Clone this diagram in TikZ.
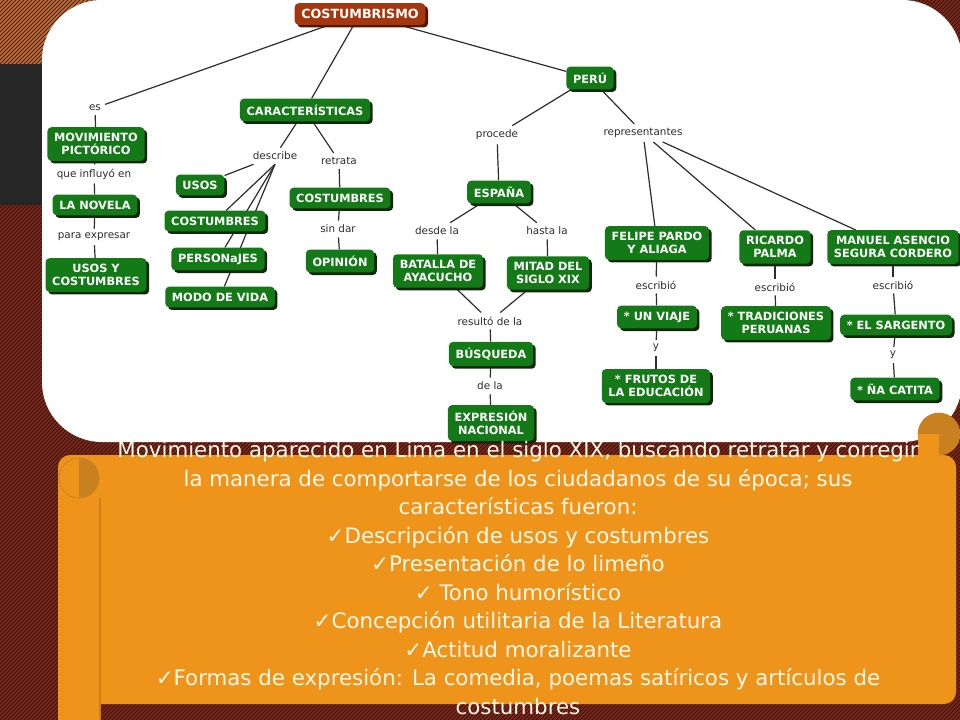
\documentclass[tikz,border=0pt]{standalone}
\usepackage{fontspec}
\setmainfont{DejaVu Sans}
\usetikzlibrary{patterns,shadows}
\pgfdeclarelayer{back}
\pgfdeclarelayer{links}
\pgfsetlayers{back,links,main}
\definecolor{mapgreen}{RGB}{20,122,24}
\definecolor{mapshadow}{RGB}{18,40,12}
\definecolor{maproot}{RGB}{165,55,15}
\definecolor{rootshadow}{RGB}{80,22,6}
\definecolor{scroll}{RGB}{239,148,26}
\definecolor{scrolldark}{RGB}{200,128,32}
\definecolor{hatchtop}{RGB}{185,105,55}
\definecolor{hatchlow}{RGB}{120,40,26}
\definecolor{hatchdark}{RGB}{40,12,6}
\definecolor{panelgray}{RGB}{38,38,38}
\definecolor{linkgray}{RGB}{45,45,45}
\definecolor{cream}{RGB}{255,248,232}
\tikzset{
    box/.style={rectangle, rounded corners=3pt, text=white, align=center,
        inner xsep=5pt, inner ysep=4.5pt, font=\bfseries\fontsize{8.5}{9.8}\selectfont},
    concept/.style={box, fill=mapgreen,
        general shadow={fill=mapshadow, shadow xshift=2pt, shadow yshift=-2pt}},
    rootconcept/.style={box, fill=maproot, font=\bfseries\fontsize{9.5}{11}\selectfont,
        general shadow={fill=rootshadow, shadow xshift=2pt, shadow yshift=-2pt}},
    linkword/.style={text=linkgray, font=\fontsize{7.8}{9}\selectfont, inner sep=3pt},
    link/.style={draw=linkgray, line width=0.9pt}
}
\begin{document}
\begin{tikzpicture}[x=0.75pt, y=-0.75pt]
    \useasboundingbox (0,0) rectangle (960,720);
    \begin{pgfonlayer}{back}
    \fill[hatchlow] (0,0) rectangle (960,720);
    \fill[hatchtop] (0,0) rectangle (130,64);
    \fill[pattern=north east lines, pattern color=hatchdark] (0,0) rectangle (960,720);
    \fill[panelgray] (0,64) rectangle (42,205);
    \fill[white, rounded corners=45pt] (42,0) rectangle (962,442);
    \fill[scroll, rounded corners=9pt] (58,455) rectangle (956,704);
    \fill[scroll] (58,470) rectangle (100,720);
    \draw[scrolldark, line width=0.8pt] (100,498) -- (100,720);
    \draw[scrolldark, fill=scroll, line width=0.5pt] (79,478) circle (15pt);
    \fill[scrolldark] (79,458) arc[start angle=90, end angle=-90, radius=15pt] -- cycle;
    \fill[scrolldark] (939,434) circle (16pt);
    \fill[scroll] (918,434) rectangle (939,455);
    \end{pgfonlayer}

    \node[rootconcept] (root) at (360,14) {COSTUMBRISMO};
    \node[linkword] (es) at (95,108) {es};
    \node[concept] (pictorico) at (96,144) {MOVIMIENTO\\PICTÓRICO};
    \node[linkword] (influyo) at (94,174) {que influyó en};
    \node[concept] (novela) at (95,205) {LA NOVELA};
    \node[linkword] (expresar) at (94,237) {para expresar};
    \node[concept] (usosycost) at (96,275) {USOS Y\\COSTUMBRES};
    \node[concept] (rasgos) at (305,110) {CARACTERÍSTICAS};
    \node[linkword] (describe) at (275,156) {describe};
    \node[linkword] (retrata) at (339,161) {retrata};
    \node[concept] (usos) at (200,185) {USOS};
    \node[concept] (costumbres) at (215,221) {COSTUMBRES};
    \node[concept] (personajes) at (218,259) {PERSONaJES};
    \node[concept] (modo) at (220,297) {MODO DE VIDA};
    \node[concept] (retratadas) at (340,198) {COSTUMBRES};
    \node[linkword] (sindar) at (338,229) {sin dar};
    \node[concept] (opinion) at (340,261) {OPINIÓN};
    \node[concept] (peru) at (590,78) {PERÚ};
    \node[linkword] (procede) at (497,135) {procede};
    \node[linkword] (representantes) at (643,133) {representantes};
    \node[concept] (espana) at (499,192) {ESPAÑA};
    \node[linkword] (desde) at (437,231) {desde la};
    \node[linkword] (hasta) at (547,231) {hasta la};
    \node[concept] (ayacucho) at (438,271) {BATALLA DE\\AYACUCHO};
    \node[concept] (mitad) at (548,273) {MITAD DEL\\SIGLO XIX};
    \node[linkword] (resulto) at (490,321) {resultó de la};
    \node[concept] (busqueda) at (491,354) {BÚSQUEDA};
    \node[linkword] (dela) at (490,386) {de la};
    \node[concept] (expresion) at (491,423) {EXPRESIÓN\\NACIONAL};
    \node[concept] (pardo) at (657,243) {FELIPE PARDO\\Y ALIAGA};
    \node[concept] (palma) at (775,247) {RICARDO\\PALMA};
    \node[concept] (segura) at (893,247) {MANUEL ASENCIO\\SEGURA CORDERO};
    \node[linkword] (escribioA) at (656,285) {escribió};
    \node[linkword] (escribioB) at (775,287) {escribió};
    \node[linkword] (escribioC) at (893,285) {escribió};
    \node[concept] (viaje) at (657,317) {* UN VIAJE};
    \node[linkword] (yA) at (656,348) {y};
    \node[concept] (frutos) at (656,386) {* FRUTOS DE\\LA EDUCACIÓN};
    \node[concept] (tradiciones) at (776,323) {* TRADICIONES\\PERUANAS};
    \node[concept] (sargento) at (896,325) {* EL SARGENTO};
    \node[linkword] (yB) at (893,355) {y};
    \node[concept] (catita) at (895,389) {* ÑA CATITA};

    \begin{pgfonlayer}{links}
    \draw[link] (root) -- (es);
    \draw[link] (es) -- (pictorico);
    \draw[link] (pictorico) -- (influyo);
    \draw[link] (influyo) -- (novela);
    \draw[link] (novela) -- (expresar);
    \draw[link] (expresar) -- (usosycost);
    \draw[link] (root) -- (rasgos);
    \draw[link] (root) -- (peru);
    \draw[link] (rasgos) -- (describe);
    \draw[link] (rasgos) -- (retrata);
    \draw[link] (describe) -- (usos);
    \draw[link] (describe.south) -- (costumbres);
    \draw[link] (describe.south) -- (personajes);
    \draw[link] (describe.south) -- (modo);
    \draw[link] (retrata) -- (retratadas);
    \draw[link] (retratadas) -- (sindar);
    \draw[link] (sindar) -- (opinion);
    \draw[link] (peru) -- (procede);
    \draw[link] (peru) -- (representantes);
    \draw[link] (procede) -- (espana);
    \draw[link] (espana) -- (desde);
    \draw[link] (espana) -- (hasta);
    \draw[link] (desde) -- (ayacucho);
    \draw[link] (hasta) -- (mitad);
    \draw[link] (ayacucho) -- (resulto);
    \draw[link] (mitad) -- (resulto);
    \draw[link] (resulto) -- (busqueda);
    \draw[link] (busqueda) -- (dela);
    \draw[link] (dela) -- (expresion);
    \draw[link] (representantes) -- (pardo);
    \draw[link] (representantes) -- (palma);
    \draw[link] (representantes) -- (segura);
    \draw[link] (pardo) -- (escribioA);
    \draw[link] (escribioA) -- (viaje);
    \draw[link] (viaje) -- (yA);
    \draw[link] (yA) -- (frutos);
    \draw[link] (palma) -- (escribioB);
    \draw[link] (escribioB) -- (tradiciones);
    \draw[link] (segura) -- (escribioC);
    \draw[link] (escribioC) -- (sargento);
    \draw[link] (sargento) -- (yB);
    \draw[link] (yB) -- (catita);
    \end{pgfonlayer}

    \node[text=cream, align=center, font=\fontsize{16}{21.4}\selectfont] (summary) at (518,578)
        {Movimiento aparecido en Lima en el siglo XIX, buscando retratar y corregir\\
        la manera de comportarse de los ciudadanos de su época; sus\\
        características fueron:\\
        ✓Descripción de usos y costumbres\\
        ✓Presentación de lo limeño\\
        ✓ Tono humorístico\\
        ✓Concepción utilitaria de la Literatura\\
        ✓Actitud moralizante\\
        ✓Formas de expresión: La comedia, poemas satíricos y artículos de\\
        costumbres};
\end{tikzpicture}
\end{document}
